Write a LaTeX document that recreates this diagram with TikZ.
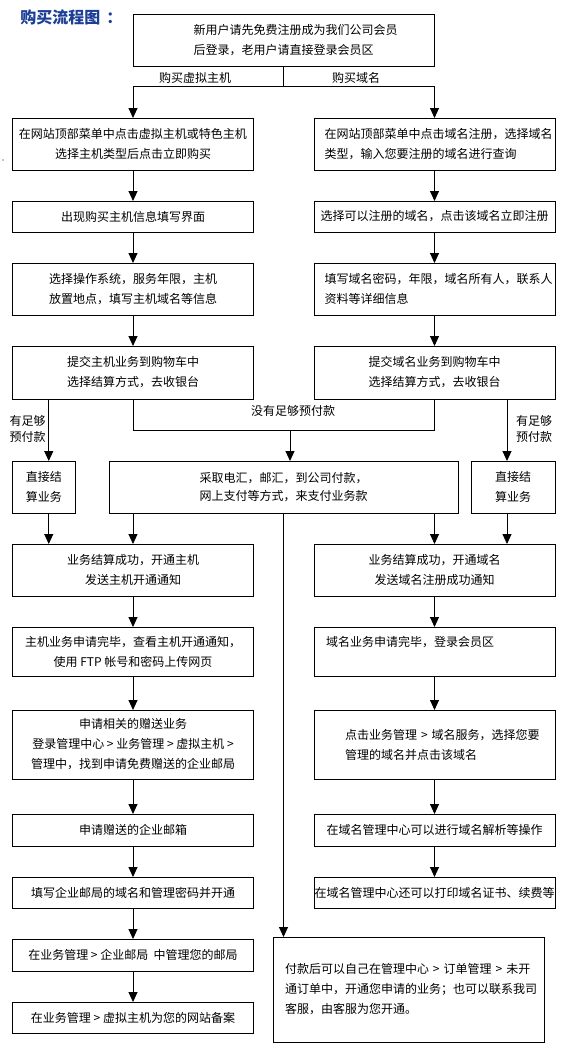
\documentclass[tikz,border=0pt]{standalone}
\usepackage{fontspec}
\setmainfont{Noto Sans CJK SC}
\usetikzlibrary{arrows.meta}
\hfuzz=300pt
\hbadness=10000
\definecolor{titleblue}{RGB}{28,62,150}
\begin{document}
\begin{tikzpicture}[x=1pt,y=-1pt,line width=0.9pt,
  box/.style={draw, outer sep=0pt, inner sep=0pt, align=center,
    font=\fontsize{12}{20}\selectfont},
  lbox/.style={box, align=left},
  lbl/.style={inner sep=0pt, align=center, font=\fontsize{12}{16}\selectfont},
  arr/.style={-{Triangle[width=9pt,length=10pt]}}]
\useasboundingbox (0,0) rectangle (572,1050);

\node[anchor=west, inner sep=0pt, font=\fontsize{16}{16}\selectfont\bfseries, text=titleblue] (title) at (20,17) {购买流程图\hspace{6pt}：};
\fill (3,160) circle (0.6);

% top
\node[lbox, minimum width=301.5, minimum height=52, inner xsep=60.6, text width=180.3] (top) at (283.75,40)
  {新用户请先免费注册成为我们公司会员\\后登录，老用户请直接登录会员区};

% left column
\node[box, minimum width=241, minimum height=52] (L1) at (133,144) {在网站顶部菜单中点击虚拟主机或特色主机\\选择主机类型后点击立即购买};
\node[box, minimum width=241, minimum height=31] (L2) at (133,216.5) {出现购买主机信息填写界面};
\node[box, minimum width=241, minimum height=52] (L3) at (133,289) {选择操作系统，服务年限，主机\\放置地点，填写主机域名等信息};
\node[box, minimum width=241, minimum height=53] (L4) at (133,372.5) {提交主机业务到购物车中\\选择结算方式，去收银台};
\node[box, minimum width=62.5, minimum height=52] (sL) at (43.75,487) {直接结\\算业务};
\node[box, minimum width=241, minimum height=52] (L5) at (133,570) {业务结算成功，开通主机\\发送主机开通通知};
\node[box, minimum width=241, minimum height=49] (L6) at (133,651.5) {主机业务申请完毕，查看主机开通通知，\\使用 FTP 帐号和密码上传网页};
\node[box, minimum width=241, minimum height=69] (L7) at (133,744.5) {申请相关的赠送业务\\登录管理中心~>~业务管理~>~虚拟主机~>\\管理中，找到申请免费赠送的企业邮局};
\node[box, minimum width=241, minimum height=32] (L8) at (133,830) {申请赠送的企业邮箱};
\node[box, minimum width=241, minimum height=31] (L9) at (133,892.5) {填写企业邮局的域名和管理密码并开通};
\node[box, minimum width=241, minimum height=32] (L10) at (133,955) {在业务管理~>~企业邮局~~中管理您的邮局};
\node[box, minimum width=241, minimum height=31] (L11) at (133,1017.5) {在业务管理~>~虚拟主机为您的网站备案};

% right column
\node[lbox, minimum width=241, minimum height=52, inner xsep=10.5, text width=220] (R1) at (434.5,144) {在网站顶部菜单中点击域名注册，选择域名\\类型，输入您要注册的域名进行查询};
\node[box, minimum width=241, minimum height=31] (R2) at (434.5,216.5) {选择可以注册的域名，点击该域名立即注册};
\node[lbox, minimum width=241, minimum height=52, inner xsep=10.5, text width=220] (R3) at (434.5,289) {填写域名密码，年限，域名所有人，联系人\\资料等详细信息};
\node[box, minimum width=241, minimum height=53] (R4) at (434.5,372.5) {提交域名业务到购物车中\\选择结算方式，去收银台};
\node[box, minimum width=84, minimum height=52] (sR) at (513,487) {直接结\\算业务};
\node[box, minimum width=241, minimum height=52] (R5) at (434.5,570) {业务结算成功，开通域名\\发送域名注册成功通知};
\node[lbox, minimum width=241, minimum height=49, inner xsep=12, text width=217] (R6) at (434.5,651.5) {域名业务申请完毕，登录会员区\\\mbox{}};
\node[lbox, minimum width=241, minimum height=69, inner xsep=31, text width=179] (R7) at (434.5,744.5) {点击业务管理~>~域名服务，选择您要\\管理的域名并点击该域名};
\node[box, minimum width=241, minimum height=32] (R8) at (434.5,830) {在域名管理中心可以进行域名解析等操作};
\node[box, minimum width=241, minimum height=31] (R9) at (434.5,892.5) {在域名管理中心还可以打印域名证书、续费等};

% middle
\node[box, minimum width=349, minimum height=52, font=\fontsize{12}{18}\selectfont] (mid) at (283.5,487) {采取电汇，邮汇，到公司付款，\\网上支付等方式，来支付业务款};
\node[lbox, minimum width=271.5, minimum height=105, inner xsep=12, text width=247.5] (BR) at (408.75,989.5) {付款后可以自己在管理中心~>~订单管理~>~未开\\通订单中，开通您申请的业务；也可以联系我司\\客服，由客服为您开通。};

% labels
\node[lbl] (labA) at (195,78) {购买虚拟主机};
\node[lbl] (labB) at (356,78) {购买域名};
\node[lbl] (labC) at (293,411) {没有足够预付款};
\node[lbl] (labD) at (27.5,429) {有足够\\预付款};
\node[lbl] (labE) at (534,429) {有足够\\预付款};

% connectors: top split
\coordinate (split) at (0,86);
\draw (top.south) -- (top.south |- split);
\draw (L1.north |- split) -- (R1.north |- split);
\draw[arr] (L1.north |- split) -- (L1.north);
\draw[arr] (R1.north |- split) -- (R1.north);

% chains
\draw[arr] (L1) -- (L2);
\draw[arr] (L2) -- (L3);
\draw[arr] (L3) -- (L4);
\draw[arr] (R1) -- (R2);
\draw[arr] (R2) -- (R3);
\draw[arr] (R3) -- (R4);

% payment split
\coordinate (uy) at (0,430);
\draw (L4.south) -- (L4.south |- uy) -- (R4.south |- uy) -- (R4.south);
\coordinate (mtop) at ([xshift=6.5pt]mid.north);
\draw[arr] (mtop |- uy) -- (mtop);
\coordinate (sLtop) at ([xshift=5pt]sL.north);
\draw[arr] (sLtop |- L4.south) -- (sLtop);
\coordinate (sRtop) at ([xshift=-6pt]sR.north);
\draw[arr] (sRtop |- R4.south) -- (sRtop);

\coordinate (sLbot) at ([xshift=5pt]sL.south);
\draw[arr] (sLbot) -- (sLbot |- L5.north);
\coordinate (sRbot) at ([xshift=-6pt]sR.south);
\draw[arr] (sRbot) -- (sRbot |- R5.north);
\draw[arr] (mid.south -| L5.north) -- (L5.north);
\draw[arr] (mid.south -| R5.north) -- (R5.north);
\draw[arr] (mid.south) -- (mid.south |- BR.north);

\draw[arr] (L5) -- (L6);
\draw[arr] (L6) -- (L7);
\draw[arr] (L7) -- (L8);
\draw[arr] (L8) -- (L9);
\draw[arr] (L9) -- (L10);
\draw[arr] (L10) -- (L11);
\draw[arr] (R5) -- (R6);
\draw[arr] (R6) -- (R7);
\draw[arr] (R7) -- (R8);
\draw[arr] (R8) -- (R9);
\end{tikzpicture}
\end{document}
